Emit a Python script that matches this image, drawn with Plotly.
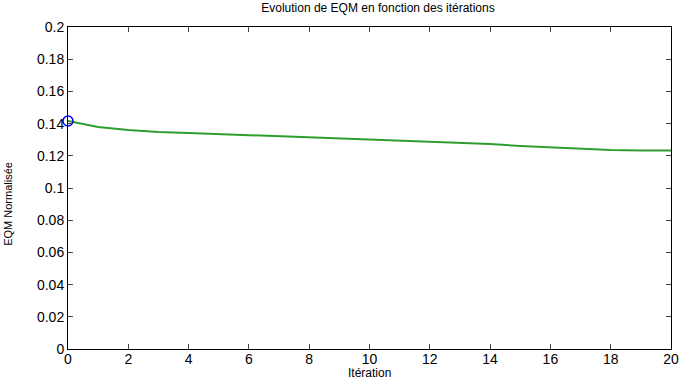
import plotly.graph_objects as go

iterations = list(range(0, 21))
eqm_values = [0.1416, 0.1379, 0.1360, 0.1348, 0.1342, 0.1335, 0.1329, 0.1320, 0.1314,
              0.1307, 0.1301, 0.1295, 0.1286, 0.1280, 0.1273, 0.1261, 0.1252, 0.1245,
              0.1236, 0.1233, 0.1233]
start_x = [0]
start_y = [0.1416]
x_ticks = list(range(0, 21, 2))
y_ticks = [0, 0.02, 0.04, 0.06, 0.08, 0.1, 0.12, 0.14, 0.16, 0.18, 0.2]
y_tick_labels = ["0", "0.02", "0.04", "0.06", "0.08", "0.1", "0.12", "0.14", "0.16", "0.18", "0.2"]

fig = go.Figure()
fig.add_trace(go.Scatter(x=iterations, y=eqm_values, mode="lines",
                         line=dict(color="#2f9e2f", width=2), showlegend=False))
fig.add_trace(go.Scatter(x=start_x, y=start_y, mode="markers",
                         marker=dict(symbol="circle-open", color="#0000ff", size=10,
                                     line=dict(width=1.5, color="#0000ff")),
                         showlegend=False, cliponaxis=False))

font = "Liberation Sans, Arial, sans-serif"
fig.update_layout(
    width=681, height=383,
    margin=dict(l=68, r=10, t=27, b=34),
    paper_bgcolor="white", plot_bgcolor="white",
    font=dict(family=font, color="black", size=14),
    title=dict(text="Evolution de EQM en fonction des itérations", x=0.555, xanchor="center",
               y=0.99, yanchor="top", font=dict(size=12, family=font)),
    xaxis=dict(range=[0, 20], tickvals=x_ticks, ticks="inside", ticklen=5,
               showline=True, linecolor="black", linewidth=1, mirror="ticks",
               showgrid=False, zeroline=False, tickfont=dict(size=14), automargin=False,
               ticklabelstandoff=-3),
    yaxis=dict(range=[0, 0.2], tickvals=y_ticks, ticktext=y_tick_labels, ticks="inside", ticklen=5,
               showline=True, linecolor="black", linewidth=1, mirror="ticks",
               showgrid=False, zeroline=False, tickfont=dict(size=14), automargin=False),
    annotations=[
        dict(text="Itération", xref="paper", yref="paper", x=0.5, y=-0.104,
             xanchor="center", yanchor="bottom", showarrow=False, font=dict(size=12)),
        dict(text="EQM Normalisée", xref="paper", yref="paper", x=-0.1, y=0.45,
             xanchor="center", yanchor="middle", showarrow=False, textangle=-90,
             font=dict(size=11)),
    ],
)

fig.write_html("out.html", config={"displayModeBar": False},
               post_script="document.body.style.margin='0';document.body.style.padding='0';")
